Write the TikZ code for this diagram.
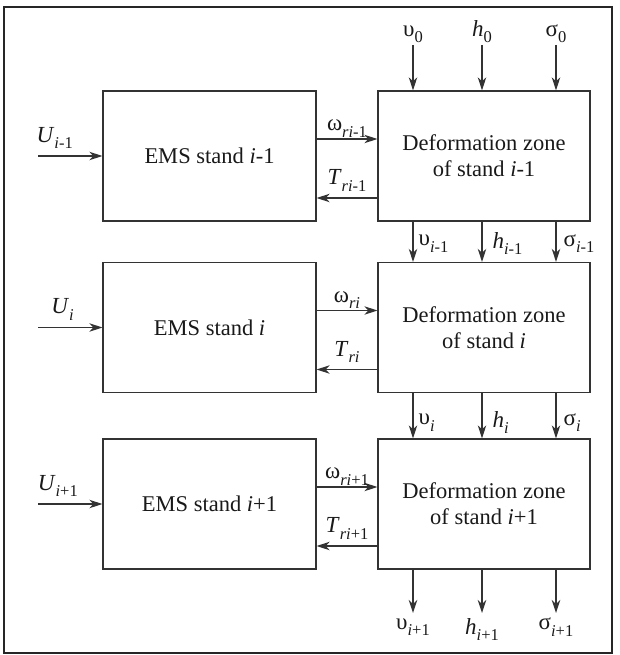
\documentclass[tikz,border=0pt]{standalone}
\usepackage{fontspec}
\setmainfont{Liberation Serif}
\usetikzlibrary{arrows.meta}
\newcommand\sbs[1]{\raisebox{-0.28em}{\fontsize{16.5}{16.5}\selectfont #1}}
\definecolor{ink}{HTML}{333333}
\begin{document}
\begin{tikzpicture}[x=1pt,y=-1pt,
  box/.style={draw=ink,line width=1.3pt,minimum height=130pt,inner sep=0pt,
    align=center,font=\fontsize{22.5}{26}\selectfont,text=black!90},
  emsbox/.style={box,minimum width=213pt},
  defbox/.style={box,minimum width=212pt},
  arr/.style={draw=ink,line width=1.3pt,-{Stealth[length=13pt,width=8.5pt,inset=4pt]}},
  lbl/.style={font=\fontsize{23}{26}\selectfont,text=black!90,inner sep=2pt}]
\useasboundingbox (0,0) rectangle (619,655);
\draw[line width=2.4pt,draw=black!85] (4,7) rectangle (612,653);

% stand boxes
\node[emsbox] (e1) at (209.5,156) {EMS stand \textit{i}-1};
\node[emsbox] (e2) at (209.5,327.5) {EMS stand \textit{i}};
\node[emsbox] (e3) at (209.5,504) {EMS stand \textit{i}+1};
\node[defbox] (d1) at (484,156) {Deformation zone\\of stand \textit{i}-1};
\node[defbox] (d2) at (484,327.5) {Deformation zone\\of stand \textit{i}};
\node[defbox] (d3) at (484,504) {Deformation zone\\of stand \textit{i}+1};

% control inputs
\coordinate (u1) at (38,156);
\coordinate (u2) at (38,327.5);
\coordinate (u3) at (38,504);
\draw[arr] (u1) -- (e1.west);
\draw[arr] (u2) -- (e2.west);
\draw[arr] (u3) -- (e3.west);
\node[lbl,anchor=south east] at ([xshift=37pt,yshift=5pt]u1) {\textit{U}\sbs{\textit{i}-1}};
\node[lbl,anchor=south east] at ([xshift=38pt,yshift=5pt]u2) {\textit{U}\sbs{\textit{i}}};
\node[lbl,anchor=south east] at ([xshift=42pt,yshift=5pt]u3) {\textit{U}\sbs{\textit{i}+1}};

% speed and torque links
\draw[arr] ([yshift=17pt]e1.east) -- node[lbl,above,yshift=-1pt] {ω\sbs{\textit{ri}-1}} ([yshift=17pt]d1.west);
\draw[arr] ([yshift=-42pt]d1.west) -- node[lbl,above,yshift=4pt] {\textit{T}\sbs{\textit{ri}-1}} ([yshift=-42pt]e1.east);
\draw[arr] ([yshift=17pt]e2.east) -- node[lbl,above,yshift=-1pt] {ω\sbs{\textit{ri}}} ([yshift=17pt]d2.west);
\draw[arr] ([yshift=-42pt]d2.west) -- node[lbl,above,yshift=4pt] {\textit{T}\sbs{\textit{ri}}} ([yshift=-42pt]e2.east);
\draw[arr] ([yshift=17pt]e3.east) -- node[lbl,above,yshift=-1pt] {ω\sbs{\textit{ri}+1}} ([yshift=17pt]d3.west);
\draw[arr] ([yshift=-42pt]d3.west) -- node[lbl,above,yshift=4pt] {\textit{T}\sbs{\textit{ri}+1}} ([yshift=-42pt]e3.east);

% entry conditions
\coordinate (v0) at (413,45);
\coordinate (h0) at (482,45);
\coordinate (s0) at (556,45);
\draw[arr] (v0) -- (d1.north -| v0);
\draw[arr] (h0) -- (d1.north -| h0);
\draw[arr] (s0) -- (d1.north -| s0);
\node[lbl,anchor=south] at (v0) {υ\sbs{0}};
\node[lbl,anchor=south] at (h0) {\textit{h}\sbs{0}};
\node[lbl,anchor=south] at (s0) {σ\sbs{0}};

% interstand links
\draw[arr] ([xshift=-71pt]d1.south) -- node[lbl,anchor=west,pos=0.55,xshift=3pt] {υ\sbs{\textit{i}-1}} ([xshift=-71pt]d2.north);
\draw[arr] ([xshift=-2pt]d1.south) -- node[lbl,anchor=west,pos=0.55,xshift=8pt] {\textit{h}\sbs{\textit{i}-1}} ([xshift=-2pt]d2.north);
\draw[arr] ([xshift=72pt]d1.south) -- node[lbl,anchor=west,pos=0.55,xshift=5pt] {σ\sbs{\textit{i}-1}} ([xshift=72pt]d2.north);
\draw[arr] ([xshift=-71pt]d2.south) -- node[lbl,anchor=west,pos=0.65,xshift=3pt] {υ\sbs{\textit{i}}} ([xshift=-71pt]d3.north);
\draw[arr] ([xshift=-2pt]d2.south) -- node[lbl,anchor=west,pos=0.65,xshift=8pt] {\textit{h}\sbs{\textit{i}}} ([xshift=-2pt]d3.north);
\draw[arr] ([xshift=72pt]d2.south) -- node[lbl,anchor=west,pos=0.65,xshift=5pt] {σ\sbs{\textit{i}}} ([xshift=72pt]d3.north);

% exit conditions
\coordinate (v3) at (413,613);
\coordinate (h3) at (482,613);
\coordinate (s3) at (556,613);
\draw[arr] (d3.south -| v3) -- (v3);
\draw[arr] (d3.south -| h3) -- (h3);
\draw[arr] (d3.south -| s3) -- (s3);
\node[lbl,anchor=north,inner sep=5pt] at (v3) {υ\sbs{\textit{i}+1}};
\node[lbl,anchor=north,inner sep=5pt] at (h3) {\textit{h}\sbs{\textit{i}+1}};
\node[lbl,anchor=north,inner sep=5pt] at (s3) {σ\sbs{\textit{i}+1}};
\end{tikzpicture}
\end{document}
